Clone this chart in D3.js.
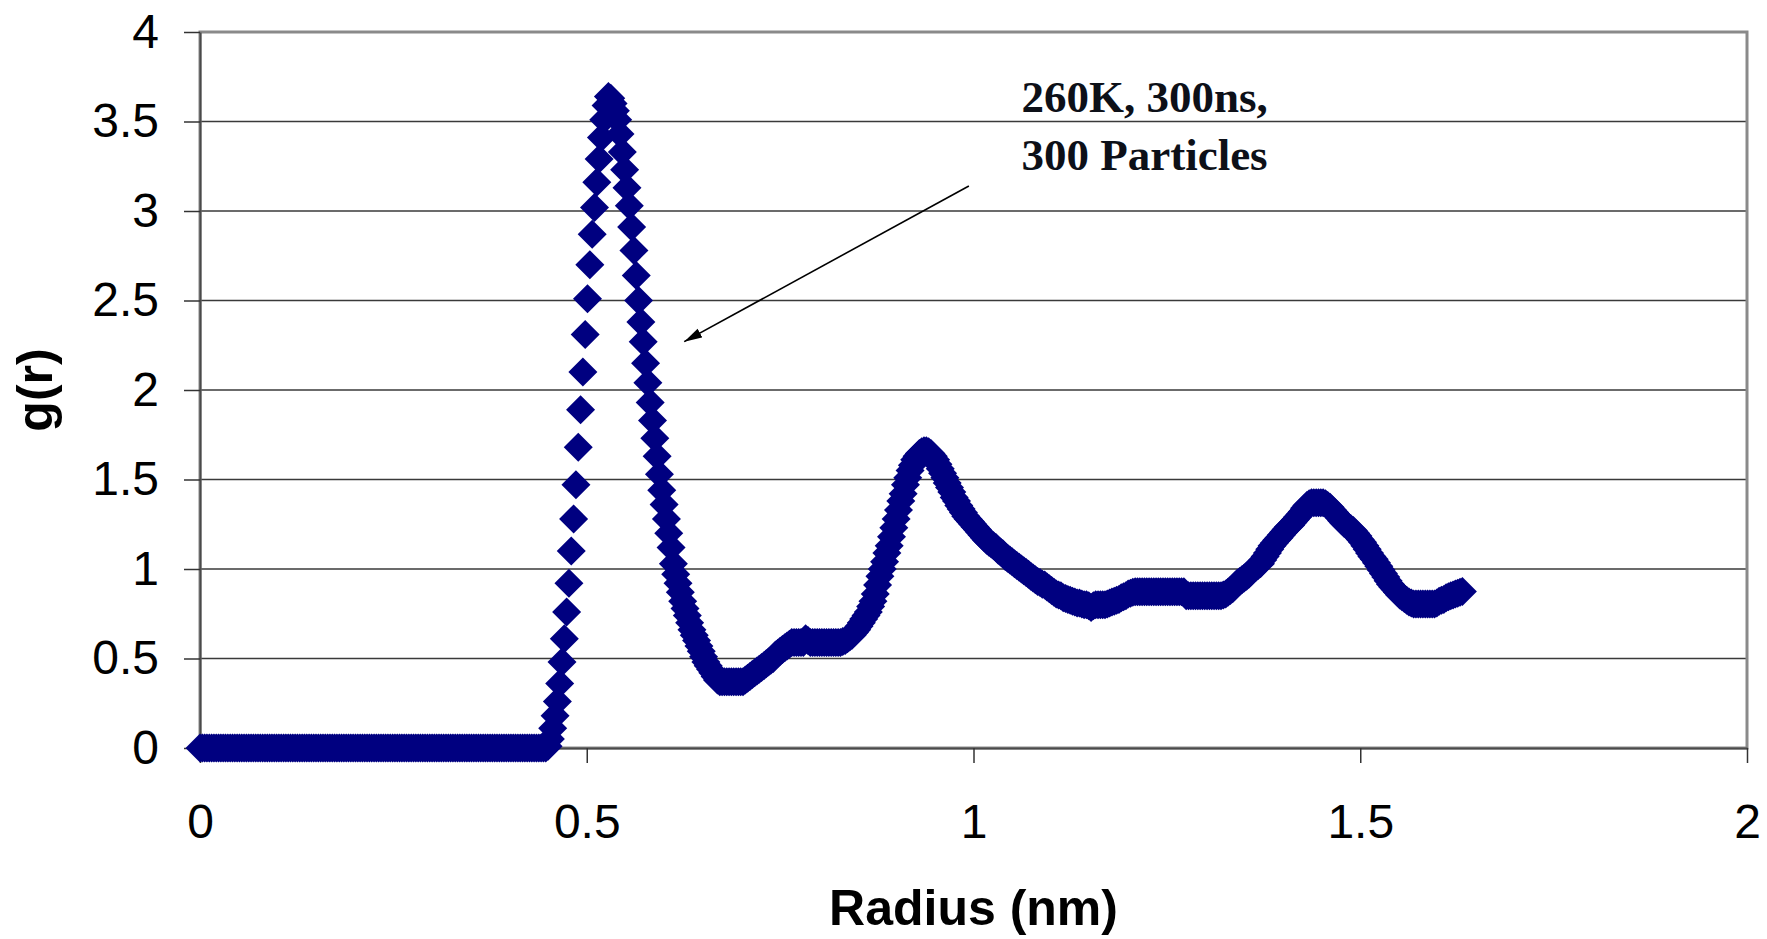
<!DOCTYPE html>
<html>
<head>
<meta charset="utf-8">
<script src="https://cdn.jsdelivr.net/npm/d3@7"></script>
<style>
  body { margin: 0; background: #fff; }
  svg { display: block; }
  .tick text { font-family: "Liberation Sans", Arial, sans-serif; font-size: 48px; fill: #000; }
  .axis-title { font-family: "Liberation Sans", Arial, sans-serif; font-size: 50px; font-weight: bold; }
  .note { font-family: "Liberation Serif", "Times New Roman", serif; font-size: 45px; font-weight: bold; fill: #0d1018; }
</style>
</head>
<body>
<script>
// g(r) histogram: bin width and one value per bin
const binWidth = 0.003;
const gr = [
  0,0,0,0,0,0,0,0,0,0,0,0,0,0,0,
  0,0,0,0,0,0,0,0,0,0,0,0,0,0,0,
  0,0,0,0,0,0,0,0,0,0,0,0,0,0,0,
  0,0,0,0,0,0,0,0,0,0,0,0,0,0,0,
  0,0,0,0,0,0,0,0,0,0,0,0,0,0,0,
  0,0,0,0,0,0,0,0,0,0,0,0,0,0,0,
  0,0,0,0,0,0,0,0,0,0,0,0,0,0,0,
  0,0,0,0,0,0,0,0,0,0,0,0,0,0,0,
  0,0,0,0,0,0,0,0,0,0,0,0,0,0,0,
  0,0,0,0,0,0,0,0,0,0,0,0,0,0,0,
  0.01,0.05,0.11,0.18,0.26,0.36,0.48,0.61,0.76,0.92,
  1.10,1.28,1.47,1.68,1.89,2.10,2.31,2.51,2.70,2.87,
  3.02,3.16,3.29,3.41,3.51,3.59,3.64,3.63,3.60,3.56,
  3.51,3.43,3.33,3.23,3.13,3.03,2.91,2.78,2.64,2.50,
  2.38,2.27,2.15,2.04,1.93,1.83,1.73,1.63,1.53,1.44,
  1.36,1.28,1.20,1.12,1.03,0.97,0.92,0.87,0.82,0.78,
  0.74,0.70,0.66,0.63,0.60,0.57,0.54,0.51,0.48,0.46,
  0.44,0.42,0.40,0.38,0.37,0.37,0.37,0.37,0.37,0.37,
  0.37,0.37,0.37,0.37,0.37,0.38,0.39,0.40,0.41,0.42,
  0.43,0.44,0.45,0.46,0.47,0.48,0.49,0.50,0.52,0.53,
  0.54,0.55,0.56,0.57,0.58,0.59,0.59,0.59,0.59,0.59,
  0.59,0.61,0.60,0.59,0.59,0.59,0.59,0.59,0.59,0.59,
  0.59,0.59,0.59,0.59,0.59,0.59,0.59,0.595,0.60,0.61,
  0.62,0.63,0.645,0.66,0.68,0.70,0.72,0.74,0.76,0.79,
  0.82,0.86,0.91,0.96,1.00,1.04,1.09,1.13,1.18,1.23,
  1.28,1.33,1.38,1.42,1.47,1.51,1.55,1.58,1.61,1.63,
  1.645,1.655,1.66,1.66,1.655,1.645,1.63,1.61,1.585,1.56,
  1.535,1.51,1.48,1.455,1.43,1.40,1.38,1.355,1.335,1.315,
  1.295,1.28,1.265,1.25,1.235,1.22,1.205,1.19,1.175,1.16,
  1.15,1.14,1.13,1.12,1.105,1.095,1.085,1.07,1.06,1.05,
  1.04,1.03,1.02,1.01,1.00,0.99,0.98,0.97,0.96,0.95,
  0.94,0.93,0.925,0.915,0.91,0.90,0.89,0.88,0.87,0.86,
  0.855,0.85,0.84,0.835,0.83,0.825,0.82,0.815,0.81,0.81,
  0.805,0.80,0.80,0.795,0.785,0.795,0.80,0.80,0.80,0.80,
  0.80,0.805,0.81,0.815,0.82,0.825,0.83,0.84,0.845,0.85,
  0.86,0.865,0.87,0.873,0.873,0.873,0.873,0.873,0.873,0.873,
  0.873,0.873,0.873,0.873,0.873,0.873,0.873,0.873,0.873,0.873,
  0.873,0.873,0.873,0.873,0.873,0.85,0.85,0.85,0.85,0.85,
  0.85,0.85,0.85,0.85,0.85,0.85,0.85,0.85,0.85,0.85,
  0.85,0.855,0.86,0.87,0.88,0.89,0.905,0.92,0.93,0.94,
  0.95,0.96,0.97,0.985,1.00,1.01,1.02,1.03,1.05,1.07,
  1.09,1.11,1.13,1.145,1.16,1.175,1.19,1.205,1.22,1.235,
  1.245,1.26,1.275,1.29,1.305,1.32,1.34,1.355,1.365,1.37,
  1.37,1.37,1.37,1.37,1.37,1.365,1.355,1.345,1.33,1.315,
  1.30,1.285,1.27,1.255,1.245,1.235,1.225,1.215,1.20,1.185,
  1.165,1.15,1.13,1.11,1.09,1.07,1.055,1.035,1.015,0.995,
  0.975,0.955,0.935,0.915,0.90,0.885,0.87,0.855,0.845,0.835,
  0.825,0.815,0.81,0.805,0.805,0.805,0.805,0.805,0.805,0.805,
  0.805,0.805,0.805,0.81,0.82,0.825,0.83,0.84,0.845,0.85,
  0.855,0.86,0.865,0.87,0.875
];
const radius = gr.map((d, i) => +(i * binWidth).toFixed(3));

const xTicks = [0, 0.5, 1, 1.5, 2];
const yTicks = [0, 0.5, 1, 1.5, 2, 2.5, 3, 3.5, 4];
const noteLines = ["260K, 300ns,", "300 Particles"];

let margin = null, width = null, height = null;
let svg = null, x = null, y = null;

setupCanvasSize();
appendSvg("body");
setupScales();
appendGrid();
appendAxes();
appendPoints();
appendTitles();
appendNote();

function setupCanvasSize() {
  margin = {top: 32, left: 200, bottom: 191, right: 20};
  width = 1767 - margin.left - margin.right;
  height = 939 - margin.top - margin.bottom;
}

function appendSvg(domElement) {
  svg = d3.select(domElement).append("svg")
    .attr("width", 1767)
    .attr("height", 939)
    .append("g")
    .attr("transform", "translate(" + margin.left + "," + margin.top + ")");
}

function setupScales() {
  x = d3.scaleLinear().domain([0, 2]).range([0, width]);
  y = d3.scaleLinear().domain([0, 4]).range([height, 0]);
}

function appendGrid() {
  svg.append("g")
    .selectAll("line")
    .data(yTicks.filter(d => d > 0 && d < 4))
    .enter().append("line")
    .attr("x1", 0)
    .attr("x2", width)
    .attr("y1", d => y(d))
    .attr("y2", d => y(d))
    .attr("stroke", "#3a3a3a")
    .attr("stroke-width", 1.5);

  // plot area frame
  svg.append("rect")
    .attr("width", width)
    .attr("height", height)
    .attr("fill", "none")
    .attr("stroke", "#8a8a8a")
    .attr("stroke-width", 3);
}

function appendAxes() {
  const xAxis = svg.append("g")
    .attr("transform", "translate(0," + height + ")")
    .call(d3.axisBottom(x).tickValues(xTicks).tickSize(15).tickSizeOuter(0)
      .tickPadding(41).tickFormat(d => String(d)));

  const yAxis = svg.append("g")
    .call(d3.axisLeft(y).tickValues(yTicks).tickSize(16).tickSizeOuter(0)
      .tickPadding(25).tickFormat(d => String(d)));

  [xAxis, yAxis].forEach(function(a) {
    a.select(".domain").attr("stroke", "#4a4a4a").attr("stroke-width", 2);
    a.selectAll(".tick line").attr("stroke", "#333").attr("stroke-width", 1.5);
  });
}

function appendPoints() {
  const s = 14.5;
  const diamond = "M0," + (-s) + "L" + s + ",0L0," + s + "L" + (-s) + ",0Z";
  svg.append("g")
    .selectAll("path")
    .data(gr)
    .enter().append("path")
    .attr("d", diamond)
    .attr("transform", (d, i) => "translate(" + x(radius[i]) + "," + y(d) + ")")
    .attr("fill", "#000080");
}

function appendTitles() {
  svg.append("text")
    .attr("class", "axis-title")
    .attr("x", width / 2)
    .attr("y", height + 177)
    .attr("text-anchor", "middle")
    .text("Radius (nm)");

  svg.append("text")
    .attr("class", "axis-title")
    .attr("transform", "translate(-148," + (height / 2) + ") rotate(-90)")
    .attr("text-anchor", "middle")
    .text("g(r)");
}

function appendNote() {
  const defs = svg.append("defs");
  defs.append("marker")
    .attr("id", "arrowhead")
    .attr("markerUnits", "userSpaceOnUse")
    .attr("markerWidth", 18)
    .attr("markerHeight", 12)
    .attr("refX", 18)
    .attr("refY", 5)
    .attr("orient", "auto")
    .append("path")
    .attr("d", "M0,0L18,5L0,10Z")
    .attr("fill", "#000");

  svg.append("line")
    .attr("x1", x(0.994))
    .attr("y1", y(3.14))
    .attr("x2", x(0.626))
    .attr("y2", y(2.27))
    .attr("stroke", "#000")
    .attr("stroke-width", 1.6)
    .attr("marker-end", "url(#arrowhead)");

  svg.append("g")
    .selectAll("text")
    .data(noteLines)
    .enter().append("text")
    .attr("class", "note")
    .attr("x", x(1.062))
    .attr("y", (d, i) => y(3.555) + i * 58)
    .text(d => d);
}
</script>
</body>
</html>
